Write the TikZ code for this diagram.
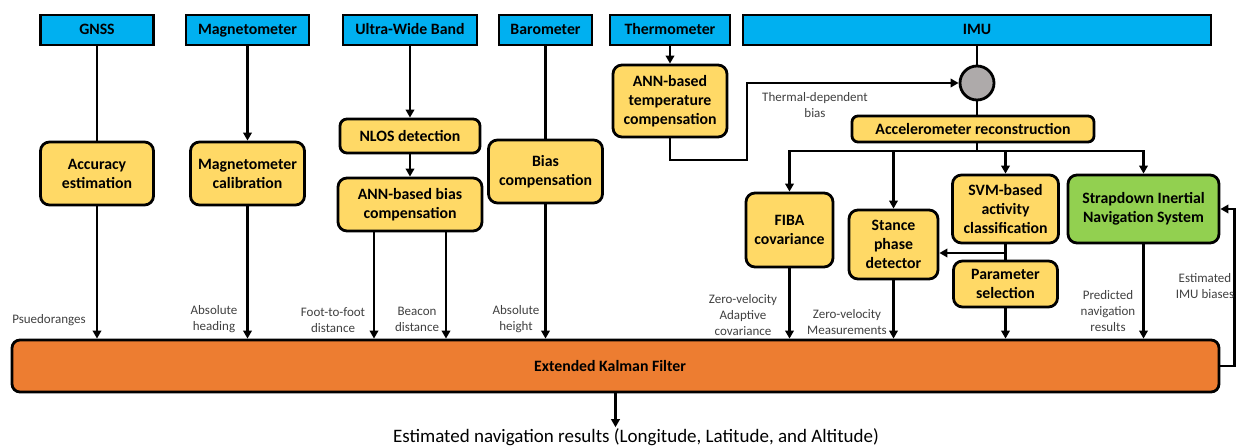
\documentclass[tikz,border=0pt]{standalone}
\usepackage{fontspec}
\setmainfont{Carlito}
\usetikzlibrary{arrows.meta}

\definecolor{sensorblue}{HTML}{00B0F0}
\definecolor{procyellow}{HTML}{FFD966}
\definecolor{insgreen}{HTML}{92D050}
\definecolor{ekforange}{HTML}{ED7D31}
\definecolor{sumgray}{HTML}{AEAAAA}
\definecolor{labelgray}{HTML}{404040}

\tikzset{
  boxtext/.style={font=\fontsize{15.8}{19}\selectfont\bfseries, align=center, inner sep=1pt},
  sensor/.style={boxtext, draw=black, line width=2.8pt, fill=sensorblue, text height=10pt, text depth=0pt},
  proc/.style={boxtext, draw=black, line width=2.8pt, fill=procyellow, rounded corners=9pt},
  ins/.style={proc, fill=insgreen},
  filterbox/.style={proc, fill=ekforange, rounded corners=8pt},
  link/.style={line width=2.6pt, draw=black},
  arr/.style={link, -{Triangle[length=8pt,width=8.5pt]}},
  note/.style={font=\fontsize{13}{16}\selectfont, text=labelgray, align=center, inner sep=0pt},
}

\begin{document}
\begin{tikzpicture}[x=1pt,y=-1pt]
\useasboundingbox (0,0) rectangle (1243,446);

% sensors
\node[sensor, minimum width=113, minimum height=30] (gnss)   at (97,30) {GNSS};
\node[sensor, minimum width=123, minimum height=30] (mag)    at (247.5,30) {Magnetometer};
\node[sensor, minimum width=134, minimum height=30] (uwb)    at (410,30) {Ultra-Wide Band};
\node[sensor, minimum width=93,  minimum height=30] (baro)   at (545.5,30) {Barometer};
\node[sensor, minimum width=120, minimum height=30] (thermo) at (670,30) {Thermometer};
\node[sensor, minimum width=468, minimum height=30] (imu)    at (977,30) {IMU};

% processing blocks
\node[proc, minimum width=113, minimum height=63] (acc)      at (97,173.5) {Accuracy\\estimation};
\node[proc, minimum width=114, minimum height=63] (magcal)   at (247.5,173.5) {Magnetometer\\calibration};
\node[proc, minimum width=140, minimum height=34, rounded corners=7pt] (nlos) at (410,136) {NLOS detection};
\node[proc, minimum width=144, minimum height=53] (annbias)  at (410,204.5) {ANN-based bias\\compensation};
\node[proc, minimum width=114, minimum height=63] (biascomp) at (545.5,171.5) {Bias\\compensation};
\node[proc, minimum width=114, minimum height=72] (anntemp)  at (670,101) {ANN-based\\temperature\\compensation};
\node[circle, draw=black, line width=2.8pt, fill=sumgray, minimum size=34, inner sep=0pt] (sum) at (977,83) {};
\node[proc, minimum width=242, minimum height=26, rounded corners=6pt] (accrec) at (973,129) {Accelerometer reconstruction};
\node[proc, minimum width=87,  minimum height=74] (fiba)   at (789.5,230) {FIBA\\covariance};
\node[proc, minimum width=89,  minimum height=69] (stance) at (893.5,244.5) {Stance\\phase\\detector};
\node[proc, minimum width=106, minimum height=68] (svm)    at (1005.5,209) {SVM-based\\activity\\classification};
\node[proc, minimum width=104, minimum height=46] (param)  at (1005.5,284) {Parameter\\selection};
\node[ins,  minimum width=151, minimum height=68] (sins)   at (1143.5,209) {Strapdown Inertial\\Navigation System};
\node[filterbox, minimum width=1207, minimum height=52] (ekf) at (615.5,366) {\hspace*{-11pt}Extended Kalman Filter};
\node[font=\fontsize{19}{23}\selectfont, inner sep=1pt] (out) at (636,437) {Estimated navigation results (Longitude, Latitude, and Altitude)};

% sensor feeds
\draw[link] (gnss.south) -- (acc.north);
\draw[arr]  (mag.south) -- (magcal.north);
\draw[arr]  (uwb.south) -- (nlos.north);
\draw[arr]  (nlos.south) -- (annbias.north);
\draw[link] (baro.south) -- (biascomp.north);
\draw[arr]  (thermo.south) -- (anntemp.north);

% temperature correction loop into the IMU summing junction
\coordinate (tbend) at (747,160);
\draw[arr] (anntemp.south) |- (tbend) |- (sum.west);
\node[note] (tlabel) at (815,105) {Thermal-dependent\\bias};
\draw[link] (imu.south) -- (sum.north);
\draw[link] (sum.south) -- (sum.south |- accrec.north);

% distribution bus below the accelerometer reconstruction
\coordinate (bus) at (977,151);
\draw[link] (sum.south |- accrec.south) -- (bus);
\draw[arr] (bus) -| (fiba.north);
\draw[arr] (bus) -| (sins.north);
\draw[arr] (bus -| stance.north) -- (stance.north);
\draw[arr] (bus -| svm.north) -- (svm.north);

% activity classification branches
\coordinate (split) at (1005.5,253);
\draw[link] (svm.south) -- (param.north);
\draw[arr] (split) -- (split -| stance.east);

% measurements into the filter
\draw[arr] (acc.south) -- (acc.south |- ekf.north);
\draw[arr] (magcal.south) -- (magcal.south |- ekf.north);
\draw[arr] ([xshift=-36pt]annbias.south) -- ([xshift=-36pt]annbias.south |- ekf.north);
\draw[arr] ([xshift=36pt]annbias.south) -- ([xshift=36pt]annbias.south |- ekf.north);
\draw[arr] (biascomp.south) -- (biascomp.south |- ekf.north);
\draw[arr] (fiba.south) -- (fiba.south |- ekf.north);
\draw[arr] (stance.south) -- (stance.south |- ekf.north);
\draw[arr] (param.south) -- (param.south |- ekf.north);
\draw[arr] (sins.south) -- (sins.south |- ekf.north);

% bias feedback and output
\draw[arr] (ekf.east) -- ++(14,0) |- (sins.east);
\draw[arr] (ekf.south) -- (ekf.south |- out.north);

% connector labels
\node[note] (l1) at (49,320)    {Psuedoranges};
\node[note] (l2) at (214,319)   {Absolute\\heading};
\node[note] (l3) at (333,320)   {Foot-to-foot\\distance};
\node[note] (l4) at (417,319)   {Beacon\\distance};
\node[note] (l5) at (516,319)   {Absolute\\height};
\node[note] (l6) at (743,315)   {Zero-velocity\\Adaptive\\covariance};
\node[note] (l7) at (847,322)   {Zero-velocity\\Measurements};
\node[note] (l8) at (1108,311)  {Predicted\\navigation\\results};
\node[note] (l9) at (1205,286)  {Estimated\\IMU biases};
\end{tikzpicture}
\end{document}
